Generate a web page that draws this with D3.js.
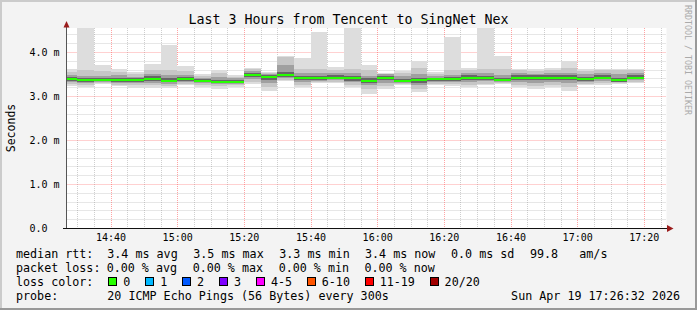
<!DOCTYPE html>
<html><head><meta charset="utf-8">
<script src="https://cdn.jsdelivr.net/npm/d3@7"></script>
<style>
html,body{margin:0;padding:0;background:#f3f3f3;}
svg{display:block;}
text{font-family:"DejaVu Sans Mono",monospace;fill:#000;white-space:pre;}
</style></head><body>
<svg id="c" width="697" height="310"></svg>
<script>
// ---------- data ----------
const title = "Last 3 Hours from Tencent to SingNet Nex";
const day = "2026-04-19";
const rangeStart = "14:26:48";
const rangeEnd = "17:26:48";
const barStart = ["14:25","14:30","14:35","14:40","14:45","14:50","14:55","15:00","15:05","15:10",
  "15:15","15:20","15:25","15:30","15:35","15:40","15:45","15:50","15:55","16:00",
  "16:05","16:10","16:15","16:20","16:25","16:30","16:35","16:40","16:45","16:50",
  "16:55","17:00","17:05","17:10","17:15"];
const medianRtt = [3.39,3.36,3.36,3.36,3.36,3.39,3.35,3.39,3.34,3.32,
  3.32,3.48,3.44,3.48,3.41,3.41,3.42,3.40,3.35,3.42,
  3.34,3.36,3.38,3.39,3.42,3.40,3.36,3.42,3.42,3.42,
  3.42,3.39,3.42,3.36,3.42];
// sorted ping ranks 1,2,4,7,10,11,14,17,19,20 (ms)
const smoke = [
  [3.23,3.27,3.31,3.35,3.37,3.40,3.43,3.47,3.55,3.61],
  [3.20,3.25,3.30,3.32,3.34,3.37,3.40,3.46,3.59,4.80],
  [3.27,3.29,3.31,3.33,3.34,3.37,3.40,3.46,3.57,3.70],
  [3.23,3.26,3.30,3.32,3.34,3.38,3.42,3.47,3.55,3.61],
  [3.19,3.24,3.29,3.32,3.34,3.37,3.40,3.44,3.50,3.55],
  [3.19,3.24,3.30,3.34,3.37,3.40,3.45,3.51,3.60,3.72],
  [3.19,3.23,3.28,3.31,3.33,3.36,3.41,3.48,3.60,4.16],
  [3.25,3.28,3.32,3.35,3.37,3.40,3.43,3.48,3.56,3.68],
  [3.21,3.25,3.29,3.31,3.32,3.35,3.38,3.42,3.46,3.49],
  [3.17,3.22,3.27,3.29,3.30,3.33,3.37,3.43,3.52,3.59],
  [3.21,3.24,3.27,3.29,3.30,3.33,3.36,3.40,3.44,3.48],
  [3.27,3.32,3.38,3.43,3.46,3.50,3.52,3.56,3.61,3.64],
  [3.12,3.20,3.30,3.37,3.42,3.45,3.48,3.51,3.53,3.55],
  [3.33,3.36,3.40,3.44,3.46,3.50,3.55,3.70,3.88,3.91],
  [3.21,3.26,3.31,3.36,3.39,3.42,3.46,3.52,3.62,3.87],
  [3.29,3.32,3.35,3.37,3.39,3.42,3.46,3.52,3.62,4.46],
  [3.29,3.32,3.36,3.38,3.40,3.43,3.47,3.52,3.60,3.67],
  [3.20,3.25,3.31,3.35,3.38,3.41,3.45,3.52,3.62,4.90],
  [3.05,3.15,3.25,3.30,3.33,3.36,3.40,3.46,3.58,3.70],
  [3.17,3.23,3.30,3.36,3.40,3.43,3.46,3.49,3.51,3.52],
  [3.25,3.27,3.30,3.31,3.32,3.35,3.39,3.45,3.52,3.57],
  [3.10,3.17,3.25,3.30,3.34,3.37,3.42,3.50,3.64,3.80],
  [3.25,3.28,3.32,3.34,3.36,3.39,3.42,3.46,3.51,3.54],
  [3.23,3.27,3.32,3.35,3.37,3.40,3.43,3.48,3.58,4.33],
  [3.21,3.26,3.32,3.37,3.40,3.43,3.47,3.52,3.58,3.63],
  [3.25,3.28,3.33,3.36,3.38,3.41,3.45,3.52,3.62,4.70],
  [3.27,3.29,3.32,3.33,3.34,3.37,3.41,3.48,3.62,3.91],
  [3.20,3.25,3.31,3.37,3.40,3.43,3.47,3.52,3.58,3.62],
  [3.16,3.22,3.30,3.36,3.40,3.43,3.47,3.51,3.57,3.61],
  [3.21,3.26,3.32,3.37,3.40,3.43,3.47,3.52,3.58,3.63],
  [3.12,3.20,3.29,3.36,3.40,3.43,3.47,3.53,3.64,3.80],
  [3.25,3.28,3.32,3.35,3.37,3.40,3.44,3.50,3.57,3.62],
  [3.25,3.29,3.34,3.38,3.40,3.43,3.47,3.52,3.58,3.62],
  [3.27,3.29,3.31,3.32,3.34,3.37,3.42,3.50,3.58,3.62],
  [3.29,3.32,3.36,3.38,3.40,3.43,3.47,3.52,3.58,3.61]
];
const smokeGreys = ["#dddddd","#c6c6c6","#a0a0a0","#666666","#303030"];
const yTickValues = [0,1,2,3,4];
const yTickLabels = ["0.0","1.0 m","2.0 m","3.0 m","4.0 m"];
const xTickLabels = ["14:40","15:00","15:20","15:40","16:00","16:20","16:40","17:00","17:20"];
const rttLabel = "median rtt:";
const rttStats = ["3.4 ms avg","3.5 ms max","3.3 ms min","3.4 ms now","0.0 ms sd","99.8","am/s"];
const lossLabel = "packet loss:";
const lossStats = ["0.00 % avg","0.00 % max","0.00 % min","0.00 % now"];
const lossColorLabel = "loss color:";
const lossNames = ["0","1","2","3","4-5","6-10","11-19","20/20"];
const lossColors = ["#26ff00","#00b8ff","#0059ff","#7e00ff","#ff00ff","#ff5500","#ff0000","#a10000"];
const probeLabel = "probe:";
const probeText = "20 ICMP Echo Pings (56 Bytes) every 300s";
const stampText = "Sun Apr 19 17:26:32 2026";
const yLabel = "Seconds";
const sideText = "RRDTOOL / TOBI OETIKER";

// ---------- layout ----------
const W = 697, H = 310;
const P = {l: 66.5, r: 666.5, t: 28, b: 228};
const parseT = d3.timeParse("%Y-%m-%d %H:%M:%S");
const parseM = d3.timeParse("%Y-%m-%d %H:%M");
const t0 = parseT(day + " " + rangeStart), t1 = parseT(day + " " + rangeEnd);
const x = d3.scaleTime().domain([t0, t1]).range([P.l, P.r]);
const y = d3.scaleLinear().domain([0, (P.b - P.t) / 44]).range([P.b, P.t]);
const step = 5 * 60 * 1000;

const svg = d3.select("#c");
svg.append("rect").attr("width", W).attr("height", H).attr("fill", "#f3f3f3");
// 3d border
svg.append("path").attr("d", `M0,0H${W}V2H2V${H}H0Z`).attr("fill", "#cbcbcb");
svg.append("path").attr("d", `M${W},${H}H0V${H-2}H${W-2}V0H${W}Z`).attr("fill", "#999999");

// canvas
svg.append("rect").attr("x", P.l).attr("y", P.t).attr("width", P.r - P.l).attr("height", P.b - P.t).attr("fill", "#ffffff");

svg.append("clipPath").attr("id", "clip").append("rect")
  .attr("x", P.l).attr("y", P.t).attr("width", P.r - P.l).attr("height", P.b - P.t);

// grid (below the smoke)
const grid = svg.append("g").attr("clip-path", "url(#clip)");
const minorY = d3.range(0.2, y.domain()[1], 0.2).filter(v => Math.abs(v - Math.round(v)) > 1e-6);
const minorX = d3.timeMinute.every(5).range(t0, t1).filter(d => d.getMinutes() % 20 !== 0);
const majorX = d3.timeMinute.every(20).range(t0, t1);
grid.selectAll(".my").data(minorY).join("line")
  .attr("x1", P.l).attr("x2", P.r).attr("y1", d => Math.round(y(d)) + 0.5).attr("y2", d => Math.round(y(d)) + 0.5)
  .attr("stroke", "rgba(128,128,128,0.38)").attr("stroke-dasharray", "1,1");
grid.selectAll(".mx").data(minorX).join("line")
  .attr("y1", P.t).attr("y2", P.b).attr("x1", d => Math.round(x(d)) + 0.5).attr("x2", d => Math.round(x(d)) + 0.5)
  .attr("stroke", "rgba(128,128,128,0.38)").attr("stroke-dasharray", "1,1");
grid.selectAll(".My").data(yTickValues.slice(1)).join("line")
  .attr("x1", P.l).attr("x2", P.r).attr("y1", d => Math.round(y(d)) + 0.5).attr("y2", d => Math.round(y(d)) + 0.5)
  .attr("stroke", "rgba(255,90,90,0.55)").attr("stroke-dasharray", "1,1");
grid.selectAll(".Mx").data(majorX).join("line")
  .attr("y1", P.t).attr("y2", P.b).attr("x1", d => Math.round(x(d)) + 0.5).attr("x2", d => Math.round(x(d)) + 0.5)
  .attr("stroke", "rgba(255,90,90,0.55)").attr("stroke-dasharray", "1,1");

const plot = svg.append("g").attr("clip-path", "url(#clip)");

// smoke
const bars = barStart.map((s, i) => ({t: parseM(day + " " + s), row: smoke[i], med: medianRtt[i]}));
bars.forEach(b => {
  const xa = x(b.t), xb = x(new Date(+b.t + step));
  for (let j = 0; j < 5; j++) {
    const lo = b.row[j], hi = b.row[9 - j];
    plot.append("rect").attr("x", xa).attr("width", xb - xa)
      .attr("y", y(hi)).attr("height", y(lo) - y(hi))
      .attr("fill", smokeGreys[j]).attr("shape-rendering", "crispEdges");
  }
  plot.append("rect").attr("x", xa).attr("width", xb - xa)
    .attr("y", Math.round(y(b.med)) - 1).attr("height", 2)
    .attr("fill", lossColors[0]).attr("shape-rendering", "crispEdges");
});

// axes lines + arrows
svg.append("line").attr("x1", 66.5).attr("x2", 66.5).attr("y1", 228).attr("y2", 24).attr("stroke", "#555");
svg.append("line").attr("x1", 63).attr("x2", 669).attr("y1", 228.5).attr("y2", 228.5).attr("stroke", "#111");
svg.append("path").attr("d", "M63.5,27.5 L66.5,21 L69.5,27.5 Z").attr("fill", "#9b1c1c");
svg.append("path").attr("d", "M667,225 L673.5,228.5 L667,232 Z").attr("fill", "#9b1c1c");

// x tick labels
const xAxis = d3.axisBottom(x).tickValues(xTickLabels.map(s => parseM(day + " " + s)))
  .tickFormat(d3.timeFormat("%H:%M")).tickSize(0).tickPadding(0);
const gx = svg.append("g").attr("transform", `translate(0,${P.b})`).call(xAxis);
gx.select(".domain").remove();
gx.selectAll("text").attr("font-family", "DejaVu Sans Mono").attr("font-size", 10)
  .attr("y", 13).attr("dy", 0).attr("fill", "#000");

// y tick labels
const yAxis = d3.axisLeft(y).tickValues(yTickValues).tickFormat((d, i) => yTickLabels[i]).tickSize(0);
const gy = svg.append("g").call(yAxis);
gy.select(".domain").remove();
gy.selectAll("text").attr("font-family", "DejaVu Sans Mono").attr("font-size", 10)
  .attr("text-anchor", "start").attr("x", 29.5).attr("dy", "0.35em").attr("fill", "#000");

// title and labels
svg.append("text").attr("x", 348.5).attr("y", 24).attr("text-anchor", "middle")
  .attr("font-size", 13.3).text(title);
svg.append("text").attr("transform", "translate(15,128) rotate(-90)").attr("text-anchor", "middle")
  .attr("font-size", 11.5).text(yLabel);
svg.append("text").attr("transform", "translate(685,5) rotate(90)").attr("text-anchor", "start")
  .attr("font-size", 8.3).style("fill", "#aaaaaa").text(sideText);

// legend
const fs = 11.7;
const leg = svg.append("g").attr("font-size", fs);
const row1 = 258, row2 = 272, row3 = 285.5, row4 = 299.5;
leg.append("text").attr("x", 16).attr("y", row1).text(rttLabel);
const rttX = [107.3,193.3,279.3,365,451,530,579.3];
rttStats.forEach((s, i) => leg.append("text").attr("x", rttX[i]).attr("y", row1).text(s));
leg.append("text").attr("x", 16).attr("y", row2).text(lossLabel);
lossStats.forEach((s, i) => leg.append("text").attr("x", rttX[i] - 0.6).attr("y", row2).text(s));
leg.append("text").attr("x", 16).attr("y", row3).text(lossColorLabel);
let sx = 108.3;
lossNames.forEach((n, i) => {
  leg.append("rect").attr("x", Math.round(sx) + 0.5).attr("y", 277.5).attr("width", 8).attr("height", 8)
    .attr("fill", lossColors[i]).attr("stroke", "#000").attr("stroke-width", 1);
  leg.append("text").attr("x", sx + 15).attr("y", row3).text(n);
  sx += 29.9 + n.length * 7.0;
});
leg.append("text").attr("x", 16).attr("y", row4).text(probeLabel);
leg.append("text").attr("x", 107.3).attr("y", row4).text(probeText);
leg.append("text").attr("x", 680).attr("y", row4).attr("text-anchor", "end").text(stampText);
</script>
</body></html>
